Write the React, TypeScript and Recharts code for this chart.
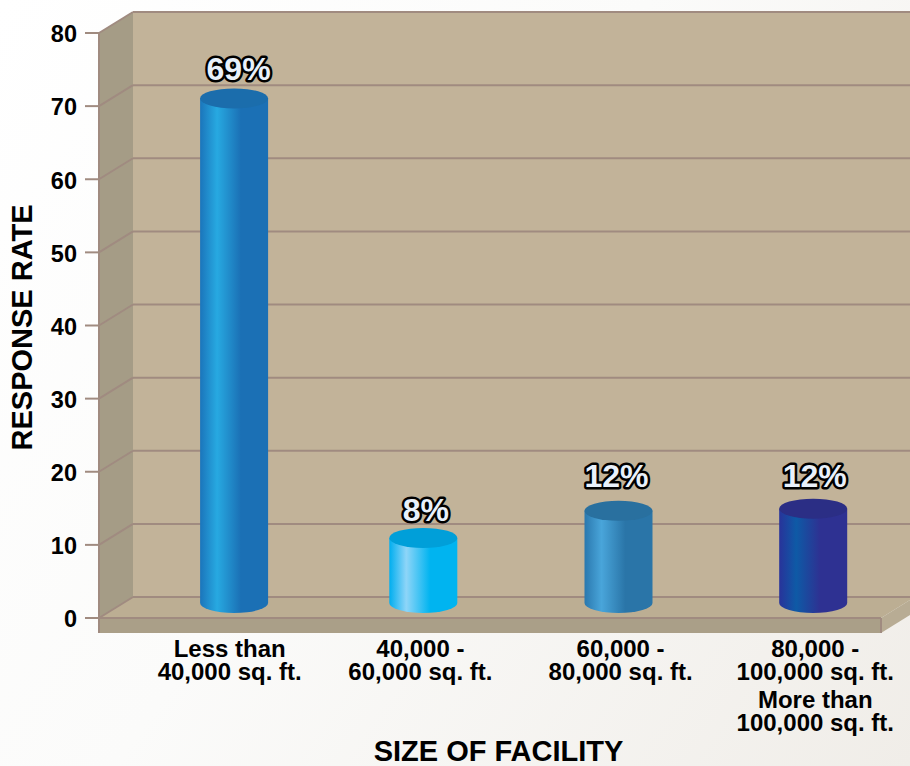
import { BarChart, Bar, XAxis, YAxis, CartesianGrid, LabelList } from 'recharts'

const categories = [
  'Less than\n40,000 sq. ft.',
  '40,000 -\n60,000 sq. ft.',
  '60,000 -\n80,000 sq. ft.',
  '80,000 -\n100,000 sq. ft.\nMore than\n100,000 sq. ft.',
]
const heights = [69, 8.9, 12.6, 12.9]
const printedLabels = ['69%', '8%', '12%', '12%']
const yTicks = [0, 10, 20, 30, 40, 50, 60, 70, 80]

const rows = categories.map((name, i) => ({ name, value: heights[i], pct: printedLabels[i] }))

// [edge, highlight, body, top cap]
const barColors = [
  ['#1b75bb', '#27a9e1', '#1b70b5', '#1b6dac'],
  ['#00aeef', '#8ed5f8', '#00b4f0', '#009fd9'],
  ['#2a78ae', '#49a5da', '#2a75a8', '#29709f'],
  ['#28339a', '#0e5aa6', '#2e3192', '#2b2e85'],
]

// the original spaces things by hand, so small per-column corrections
const barNudge = [1.5, -2.5, -0.5, 1]
const tickNudge = [-2.5, -5, 2, 3.5]
const labelNudgeX = [6, 0, -2.5, 2.5]
const labelNudgeY = [-2, -1, -8, -6]

const LINE = '#a08b80'
const DEPTH_X = 34
const DEPTH_Y = 21
const BAR_DX = 30
const BAR_DY = 15
const FONT = '"Liberation Sans", Arial, sans-serif'

const PLOT_L = 99
const PLOT_R = 881
const PLOT_T = 33
const PLOT_B = 618
const SLAB = 15

function Walls() {
  const l = PLOT_L
  const r = PLOT_R
  const t = PLOT_T
  const b = PLOT_B
  return (
    <svg width={910} height={766} style={{ position: 'absolute', left: 0, top: 0 }}>
      <polygon points={`${l + DEPTH_X},${t - DEPTH_Y} ${r + DEPTH_X},${t - DEPTH_Y} ${r + DEPTH_X},${b - DEPTH_Y} ${l + DEPTH_X},${b - DEPTH_Y}`} fill="#c2b399" />
      <polygon points={`${l},${t} ${l + DEPTH_X},${t - DEPTH_Y} ${l + DEPTH_X},${b - DEPTH_Y} ${l},${b}`} fill="#a59c86" />
      <polygon points={`${l},${b} ${l + DEPTH_X},${b - DEPTH_Y} ${r + DEPTH_X},${b - DEPTH_Y} ${r},${b}`} fill="#bcae93" />
      <rect x={l} y={b} width={r - l} height={SLAB} fill="#aa9f88" />
      <polygon points={`${r},${b} ${r + DEPTH_X},${b - DEPTH_Y} ${r + DEPTH_X},${b + SLAB - DEPTH_Y} ${r},${b + SLAB}`} fill="#b8ac94" />
      <line x1={r} y1={b} x2={r} y2={b + SLAB} stroke={LINE} strokeWidth={2} />
      <line x1={l} y1={b} x2={l} y2={b + SLAB} stroke={LINE} strokeWidth={2} />
    </svg>
  )
}

function GridLine(props: any) {
  const { x1, y1, x2, y2 } = props
  return (
    <g>
      <line x1={x1} y1={y1} x2={x1 + DEPTH_X} y2={y1 - DEPTH_Y} stroke={LINE} strokeWidth={2} />
      <line x1={x1 + DEPTH_X} y1={y1 - DEPTH_Y} x2={x2 + DEPTH_X} y2={y2 - DEPTH_Y} stroke={LINE} strokeWidth={2} />
    </g>
  )
}

function Cylinder(props: any) {
  const { x, y, width, height, index } = props
  const rx = width / 2
  const ry = 10
  const left = x + BAR_DX + barNudge[index]
  const top = y - BAR_DY
  const base = y + height - BAR_DY
  const d = `M${left},${top} L${left},${base} A${rx},${ry} 0 0 0 ${left + width},${base} L${left + width},${top} Z`
  return (
    <g>
      <path d={d} fill={`url(#cyl${index})`} />
      <ellipse cx={left + rx} cy={top} rx={rx} ry={ry} fill={barColors[index][3]} />
    </g>
  )
}

function PctLabel(props: any) {
  const { x, y, width, value, index } = props
  return (
    <text
      x={x + BAR_DX + width / 2 + labelNudgeX[index]}
      y={y - BAR_DY - 16 + labelNudgeY[index]}
      textAnchor="middle"
      fontFamily={FONT}
      fontWeight="bold"
      fontSize={32}
      fill="#e9f1fb"
      stroke="#000"
      strokeWidth={5}
      strokeLinejoin="round"
      paintOrder="stroke"
    >
      {value}
    </text>
  )
}

function CategoryTick(props: any) {
  const { x, y, payload, index } = props
  const lines = String(payload.value).split('\n')
  const cx = x + BAR_DX + tickNudge[index]
  return (
    <text x={cx} y={y} textAnchor="middle" fontFamily={FONT} fontWeight="bold" fontSize={24} fill="#000">
      {lines.map((ln, i) => (
        <tspan key={i} x={cx} y={y + 31 + i * 23 + (i > 1 ? 5 : 0)}>{ln}</tspan>
      ))}
    </text>
  )
}

export default function App() {
  return (
    <div style={{ position: 'absolute', left: 0, top: 0, width: 910, height: 766, overflow: 'hidden', background: 'linear-gradient(125deg, #ffffff 0%, #fbfbfa 45%, #f0ede8 100%)' }}>
      <Walls />
      <div style={{ position: 'absolute', left: 0, top: 0 }}>
        <BarChart width={910} height={766} data={rows} margin={{ top: 33, right: 29, bottom: 0, left: 0 }} barCategoryGap={0}>
          <defs>
            {barColors.map((c, i) => (
              <linearGradient key={i} id={`cyl${i}`} x1="0" y1="0" x2="1" y2="0">
                <stop offset="0%" stopColor={c[0]} />
                <stop offset="25%" stopColor={c[1]} />
                <stop offset="60%" stopColor={c[2]} />
                <stop offset="100%" stopColor={c[2]} />
              </linearGradient>
            ))}
          </defs>
          <CartesianGrid vertical={false} horizontal={GridLine} />
          <XAxis
            dataKey="name"
            height={148}
            padding={{ left: 6.6, right: 2.6 }}
            interval={0}
            tick={CategoryTick}
            tickLine={false}
            axisLine={{ stroke: LINE, strokeWidth: 2 }}
            label={{ value: 'SIZE OF FACILITY', position: 'insideBottom', offset: 5, fill: '#000', fontSize: 29, fontWeight: 'bold', fontFamily: FONT, dx: 8.5 }}
          />
          <YAxis
            width={99}
            domain={[0, 80]}
            ticks={yTicks}
            tickSize={14}
            tickMargin={8}
            interval={0}
            tick={{ fill: '#000', fontSize: 23.5, fontWeight: 'bold', fontFamily: FONT, dy: 1 }}
            tickLine={{ stroke: LINE, strokeWidth: 2 }}
            axisLine={{ stroke: LINE, strokeWidth: 2 }}
            label={{ value: 'RESPONSE RATE', angle: -90, position: 'insideLeft', offset: 22, dy: 125, fill: '#000', fontSize: 29, fontWeight: 'bold', fontFamily: FONT }}
          />
          <Bar dataKey="value" barSize={68} shape={Cylinder} isAnimationActive={false}>
            <LabelList dataKey="pct" content={PctLabel} />
          </Bar>
        </BarChart>
      </div>
    </div>
  )
}
